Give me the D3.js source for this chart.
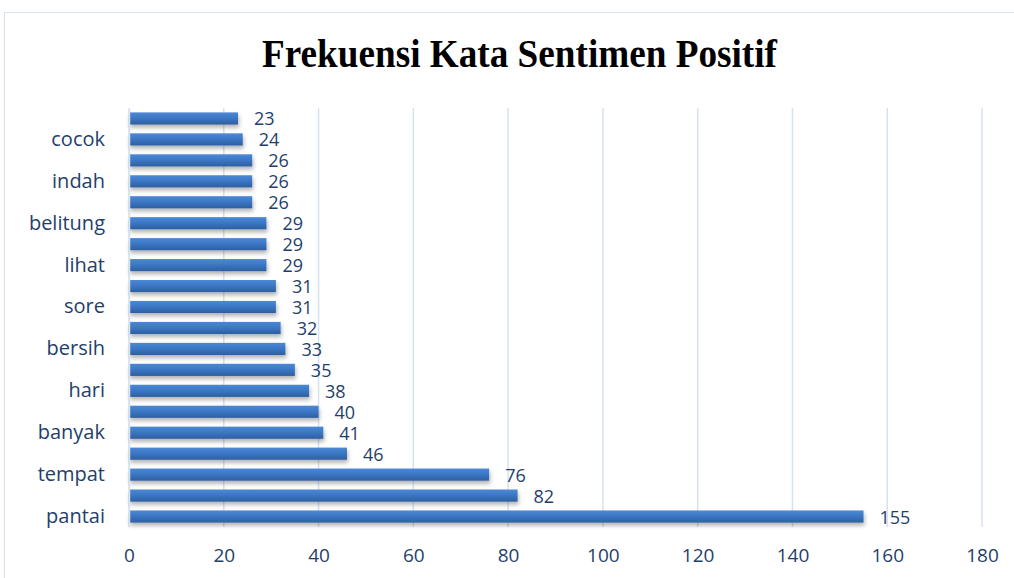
<!DOCTYPE html>
<html>
<head>
<meta charset="utf-8">
<script src="https://cdn.jsdelivr.net/npm/d3@7"></script>
<style>
  body { margin: 0; background: #fff; }
  text { font-family: "Open Sans", "Noto Sans", sans-serif; }
</style>
</head>
<body>
<div id="chart"></div>
<script>
// words from bottom (most frequent) to top; every other label is hidden in the original
var words = ["pantai", "", "tempat", "", "banyak", "", "hari", "", "bersih", "",
             "sore", "", "lihat", "", "belitung", "", "indah", "", "cocok", ""];
var counts = [155, 82, 76, 46, 41, 40, 38, 35, 33, 32, 31, 31, 29, 29, 29, 26, 26, 26, 24, 23];
var xTicks = [0, 20, 40, 60, 80, 100, 120, 140, 160, 180];

var W = 1014, H = 578;
var margin = { top: 108, right: 32, bottom: 51, left: 129 },
    width = W - margin.left - margin.right,
    height = H - margin.top - margin.bottom;

var svg = d3.select("#chart").append("svg")
    .attr("width", W)
    .attr("height", H);

// chart frame
svg.append("rect")
    .attr("x", 4.5).attr("y", 12.5)
    .attr("width", W + 10).attr("height", H)
    .attr("fill", "none")
    .attr("stroke", "#d5e3f3");

svg.append("text")
    .attr("x", 262).attr("y", 67)
    .attr("textLength", 515)
    .attr("lengthAdjust", "spacingAndGlyphs")
    .style("font-family", "'Liberation Serif', 'Times New Roman', serif")
    .style("font-weight", "bold")
    .style("font-size", "40px")
    .attr("fill", "#000")
    .text("Frekuensi Kata Sentimen Positif");

var defs = svg.append("defs");
var grad = defs.append("linearGradient")
    .attr("id", "barGrad")
    .attr("x1", 0).attr("y1", 0).attr("x2", 0).attr("y2", 1);
grad.append("stop").attr("offset", "0%").attr("stop-color", "#4b88d4");
grad.append("stop").attr("offset", "45%").attr("stop-color", "#3c78c6");
grad.append("stop").attr("offset", "100%").attr("stop-color", "#2d5f9f");

var shadow = defs.append("filter").attr("id", "shadow")
    .attr("x", "-5%").attr("y", "-50%").attr("width", "110%").attr("height", "250%");
shadow.append("feDropShadow")
    .attr("dx", 1).attr("dy", 3).attr("stdDeviation", 2)
    .attr("flood-color", "#000").attr("flood-opacity", 0.3);

var g = svg.append("g")
    .attr("transform", "translate(" + margin.left + "," + margin.top + ")");

var idx = d3.range(counts.length);

var x = d3.scaleLinear()
    .domain([0, 180])
    .range([0, width]);

var y = d3.scaleBand()
    .domain(idx)
    .range([height, 0])
    .paddingInner(0.42)
    .paddingOuter(0.21);

// gridlines
g.selectAll(".grid")
    .data(xTicks)
    .enter().append("line")
    .attr("x1", function (d) { return x(d); })
    .attr("x2", function (d) { return x(d); })
    .attr("y1", 0).attr("y2", height)
    .attr("stroke", "#d6e2f0")
    .attr("stroke-width", 1.5);

// bars
g.selectAll(".bar")
    .data(idx)
    .enter().append("rect")
    .attr("x", 0)
    .attr("y", function (i) { return y(i); })
    .attr("width", function (i) { return x(counts[i]); })
    .attr("height", y.bandwidth())
    .attr("fill", "url(#barGrad)")
    .attr("filter", "url(#shadow)");

// value labels
g.selectAll(".val")
    .data(idx)
    .enter().append("text")
    .attr("x", function (i) { return x(counts[i]) + 16; })
    .attr("y", function (i) { return y(i) + y.bandwidth() / 2 + 7; })
    .style("font-size", "18px")
    .attr("fill", "#1f3f6b")
    .text(function (i) { return counts[i]; });

// y axis
var yAxis = g.append("g")
    .call(d3.axisLeft(y).tickSize(0).tickPadding(24)
        .tickFormat(function (i) { return words[i]; }));
yAxis.select(".domain").attr("stroke", "#d6e2f0").attr("stroke-width", 1.5);
yAxis.selectAll("text")
    .style("font-size", "20px")
    .attr("fill", "#1f3f6b");

// x axis
var xAxis = g.append("g")
    .attr("transform", "translate(0," + height + ")")
    .call(d3.axisBottom(x).tickValues(xTicks).tickSize(0).tickPadding(22));
xAxis.select(".domain").remove();
xAxis.selectAll("text")
    .style("font-size", "19px")
    .attr("fill", "#1f3f6b");
</script>
</body>
</html>
